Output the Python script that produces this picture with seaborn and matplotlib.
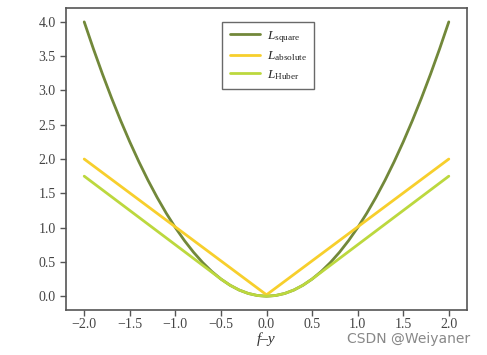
import numpy as np
import pandas as pd
import matplotlib
matplotlib.use("Agg")
import matplotlib.pyplot as plt
import seaborn as sns

# data
x_vals = [-2.0, -1.9, -1.8, -1.7, -1.6, -1.5, -1.4, -1.3, -1.2, -1.1, -1.0,
          -0.9, -0.8, -0.7, -0.6, -0.5, -0.4, -0.3, -0.2, -0.1, 0.0,
          0.1, 0.2, 0.3, 0.4, 0.5, 0.6, 0.7, 0.8, 0.9, 1.0,
          1.1, 1.2, 1.3, 1.4, 1.5, 1.6, 1.7, 1.8, 1.9, 2.0]
l_square = [4.00, 3.61, 3.24, 2.89, 2.56, 2.25, 1.96, 1.69, 1.44, 1.21, 1.00,
            0.81, 0.64, 0.49, 0.36, 0.25, 0.16, 0.09, 0.04, 0.01, 0.00,
            0.01, 0.04, 0.09, 0.16, 0.25, 0.36, 0.49, 0.64, 0.81, 1.00,
            1.21, 1.44, 1.69, 1.96, 2.25, 2.56, 2.89, 3.24, 3.61, 4.00]
l_absolute_x = [-2.0, 0.0, 2.0]
l_absolute = [2.0, 0.02, 2.0]
l_huber = [1.75, 1.65, 1.55, 1.45, 1.35, 1.25, 1.15, 1.05, 0.95, 0.85, 0.75,
           0.65, 0.55, 0.45, 0.35, 0.25, 0.16, 0.09, 0.04, 0.01, 0.00,
           0.01, 0.04, 0.09, 0.16, 0.25, 0.35, 0.45, 0.55, 0.65, 0.75,
           0.85, 0.95, 1.05, 1.15, 1.25, 1.35, 1.45, 1.55, 1.65, 1.75]
names = [r"$L_{\rm square}$", r"$L_{\rm absolute}$", r"$L_{\rm Huber}$"]
colors = ["#72883a", "#f7cf2c", "#bcd83e"]

df = pd.concat([
    pd.DataFrame({"x": x_vals, "y": l_square, "loss": names[0]}),
    pd.DataFrame({"x": l_absolute_x, "y": l_absolute, "loss": names[1]}),
    pd.DataFrame({"x": x_vals, "y": l_huber, "loss": names[2]}),
])

sns.set_style("ticks")
plt.rcParams["font.family"] = ["Liberation Serif", "DejaVu Serif"]
plt.rcParams["mathtext.fontset"] = "custom"
plt.rcParams["mathtext.rm"] = "Liberation Serif"
plt.rcParams["mathtext.it"] = "Liberation Serif:italic"

fig = plt.figure(figsize=(4.87, 3.55), dpi=100)
ax = fig.add_axes([0.1355, 0.127, 0.8235, 0.85])

sns.lineplot(data=df, x="x", y="y", hue="loss", palette=colors,
             linewidth=2, sort=False, ax=ax)

ticks_x = np.arange(-2.0, 2.01, 0.5)
ticks_y = np.arange(0.0, 4.01, 0.5)
ax.set_xticks(ticks_x)
ax.set_yticks(ticks_y)
ax.set_xticklabels([f"{v:.1f}".replace("-", "\u2212") for v in ticks_x])
ax.set_yticklabels([f"{v:.1f}" for v in ticks_y])
ax.set_xlim(-2.2, 2.2)
ax.set_ylim(-0.2, 4.2)
ax.set_xlabel("f\u2013y", fontstyle="italic", fontsize=11, color="#333333", labelpad=1)
ax.set_ylabel("")
ax.tick_params(labelsize=10, colors="#555555", labelcolor="#444444",
               length=4, width=1)
ax.tick_params(axis="x", pad=2)
for s in ax.spines.values():
    s.set_visible(True)
    s.set_color("#555555")
    s.set_linewidth(1.2)

leg = ax.legend(loc="upper left", bbox_to_anchor=(0.39, 0.955), fontsize=9.5,
                frameon=True, fancybox=False, edgecolor="#444444",
                handlelength=2.3, handletextpad=0.5, borderpad=0.55,
                labelspacing=0.35, borderaxespad=0)
leg.get_frame().set_linewidth(1.0)
leg.set_title(None)

fig.text(0.965, 0.045, "CSDN @Weiyaner", ha="right", va="center",
         fontsize=10, color="#888888", family="DejaVu Sans")

fig.savefig("out.png", dpi=100)
